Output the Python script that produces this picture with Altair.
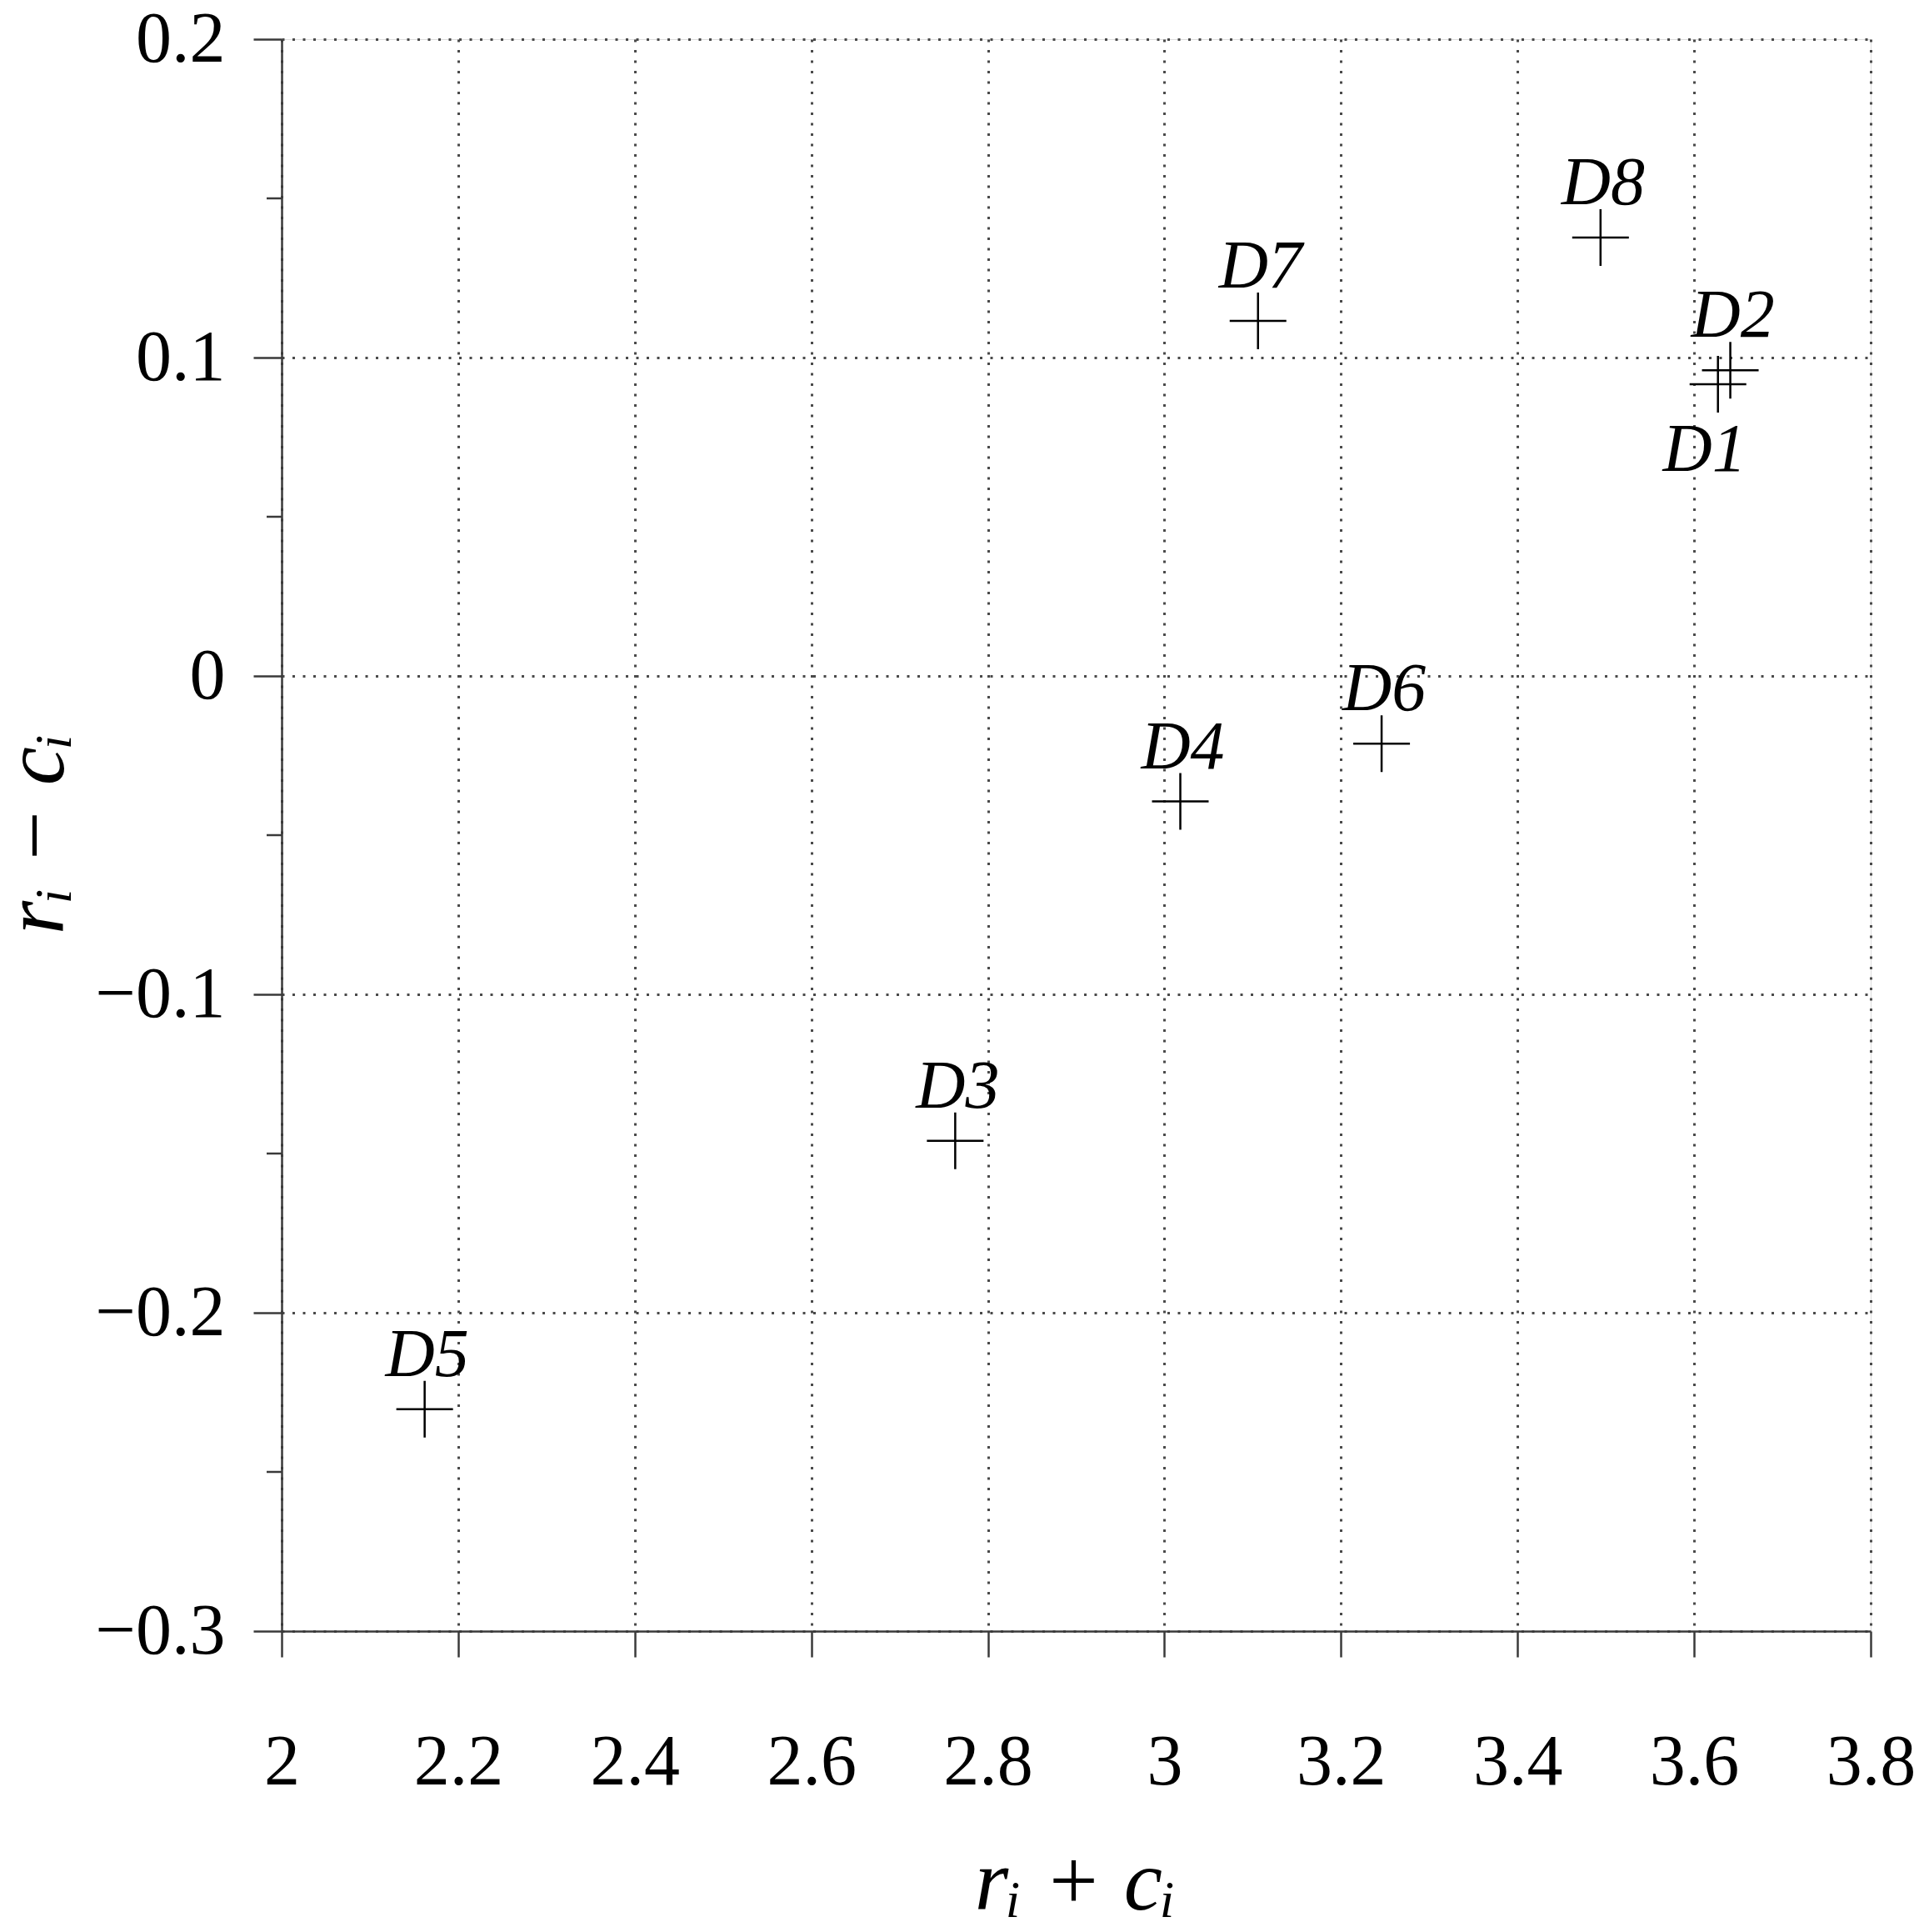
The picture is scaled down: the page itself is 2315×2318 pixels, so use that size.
import altair as alt
import pandas as pd

names = ["D1", "D2", "D3", "D4", "D5", "D6", "D7", "D8"]
x_vals = [3.627, 3.641, 2.763, 3.018, 2.162, 3.246, 3.106, 3.494]
y_vals = [0.0916, 0.0960, -0.146, -0.0394, -0.2303, -0.0213, 0.1115, 0.1377]
label_side = ["below", "above", "above", "above", "above", "above", "above", "above"]

x_ticks = [2.0, 2.2, 2.4, 2.6, 2.8, 3.0, 3.2, 3.4, 3.6, 3.8]
y_ticks = [0.2, 0.1, 0.0, -0.1, -0.2, -0.3]
y_minor = [0.15, 0.05, -0.05, -0.15, -0.25]

df = pd.DataFrame({"name": names, "x": x_vals, "y": y_vals, "side": label_side})
df_minor = pd.DataFrame({"y": y_minor})

FONT = "Liberation Serif"
AX = "#3a3a3a"

x_enc = alt.X(
    "x:Q",
    scale=alt.Scale(domain=[2, 3.8], nice=False, zero=False),
    axis=alt.Axis(
        values=x_ticks, format="~g", title="rᵢ + cᵢ",
        titleFont=FONT, titleFontStyle="italic", titleFontWeight="normal",
        titleFontSize=104, titleColor="black",
        titleX=952, titleY=333, titleAlign="center", titleBaseline="alphabetic",
        labelFont=FONT, labelFontSize=86, labelColor="black", labelPadding=84,
        labelFlush=False, labelOverlap=False,
        tickSize=31, tickColor=AX, tickWidth=2.5,
        domainColor=AX, domainWidth=2.5,
        grid=True, gridColor="#4a4a4a", gridDash=[3, 9.5], gridWidth=3,
    ),
)
y_enc = alt.Y(
    "y:Q",
    scale=alt.Scale(domain=[-0.3, 0.2], nice=False, zero=False),
    axis=alt.Axis(
        values=y_ticks, format="~g", title="rᵢ − cᵢ",
        titleFont=FONT, titleFontStyle="italic", titleFontWeight="normal",
        titleFontSize=104, titleColor="black", titleAngle=270,
        titleX=-263, titleY=953, titleAlign="center", titleBaseline="alphabetic",
        labelFont=FONT, labelFontSize=86, labelColor="black", labelPadding=34,
        labelFlush=False, labelOverlap=False,
        tickSize=34, tickColor=AX, tickWidth=2.5,
        domainColor=AX, domainWidth=2.5,
        grid=True, gridColor="#4a4a4a", gridDash=[3, 9.5], gridWidth=3,
    ),
)

points = alt.Chart(df).mark_point(
    shape="M-1,0L1,0M0,-1L0,1", size=4624, filled=False,
    stroke="black", strokeWidth=2.5, opacity=1,
).encode(x=x_enc, y=y_enc)

labels_above = alt.Chart(df).transform_filter(
    alt.datum.side == "above"
).mark_text(
    font=FONT, fontStyle="italic", fontSize=82, color="black",
    align="center", baseline="alphabetic", dy=-40, dx=3,
).encode(x=x_enc, y=y_enc, text="name:N")

labels_below = alt.Chart(df).transform_filter(
    alt.datum.side == "below"
).mark_text(
    font=FONT, fontStyle="italic", fontSize=82, color="black",
    align="center", baseline="alphabetic", dy=104, dx=-16,
).encode(x=x_enc, y=y_enc, text="name:N")

minor = alt.Chart(df_minor).mark_rule(color=AX, strokeWidth=2.5).encode(
    x=alt.value(-18), x2=alt.value(0), y=y_enc
)

chart = alt.layer(minor, points, labels_above, labels_below).properties(
    width=1907, height=1910,
    autosize=alt.AutoSizeParams(type="none"),
    padding={"left": 330, "top": 39, "right": 62, "bottom": 352},
).configure_view(stroke=None).configure(background="white")

chart.save("out.html", embed_options={"renderer": "svg", "actions": False})
